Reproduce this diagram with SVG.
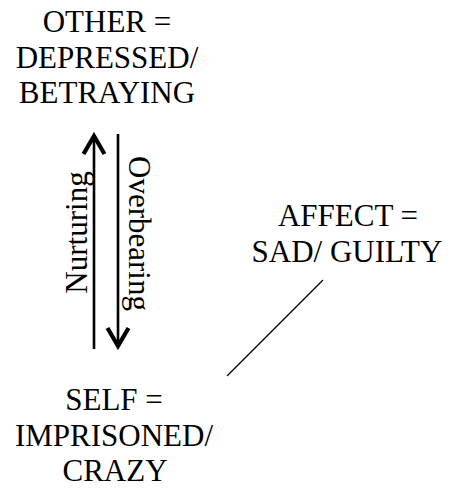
<svg xmlns="http://www.w3.org/2000/svg" width="452" height="492" viewBox="0 0 452 492">
<defs>
<style>
.t{font-family:"Liberation Serif","Times New Roman",serif;font-size:31px;fill:#000;text-anchor:middle}
.ln{stroke:#000;fill:none}
</style>
<marker id="chev" markerUnits="userSpaceOnUse" viewBox="-22 -14 26 28" refX="0" refY="0" markerWidth="26" markerHeight="28" orient="auto">
<path d="M -18 -10.5 L 0 0 L -18 10.5" fill="none" stroke="#000" stroke-width="4.2" stroke-linejoin="miter"/>
</marker>
</defs>
<rect width="452" height="492" fill="#fff"/>
<g id="other">
<text class="t" x="107" y="32">OTHER =</text>
<text class="t" x="107" y="67.5">DEPRESSED/</text>
<text class="t" x="107" y="103">BETRAYING</text>
</g>
<g id="affect">
<text class="t" x="348" y="226">AFFECT =</text>
<text class="t" x="347" y="262">SAD/ GUILTY</text>
</g>
<g id="self">
<text class="t" x="114" y="410">SELF =</text>
<text class="t" x="114" y="445.5">IMPRISONED/</text>
<text class="t" x="115" y="481">CRAZY</text>
</g>
<g id="connectors">
<line class="ln" x1="94" y1="349" x2="94" y2="136" stroke-width="2.6" marker-end="url(#chev)"/>
<line class="ln" x1="118" y1="134" x2="118" y2="346" stroke-width="2.6" marker-end="url(#chev)"/>
<line class="ln" x1="323" y1="280" x2="227" y2="376" stroke-width="1.2"/>
<text class="t" transform="translate(87 232.5) rotate(-90)">Nurturing</text>
<text class="t" transform="translate(129 233.5) rotate(90)">Overbearing</text>
</g>
</svg>
